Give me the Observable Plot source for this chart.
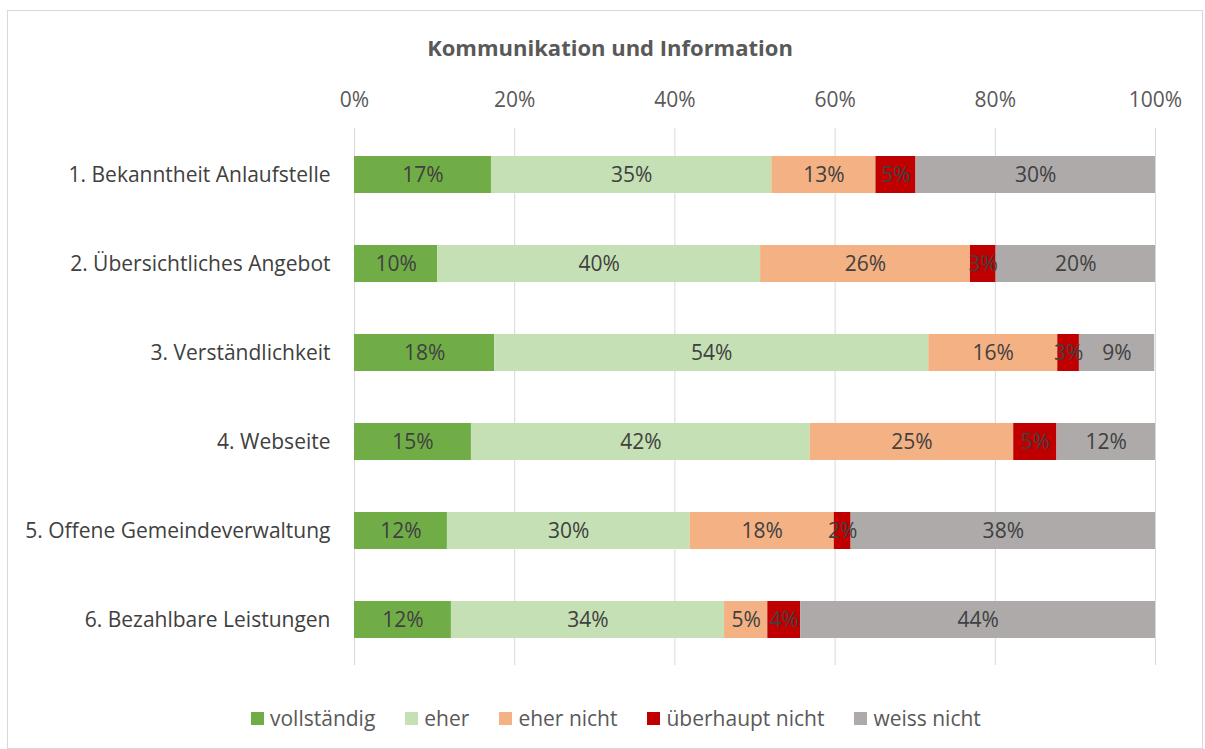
<!DOCTYPE html>
<html><head><meta charset="utf-8">
<script src="https://cdn.jsdelivr.net/npm/d3@7"></script>
<script src="https://cdn.jsdelivr.net/npm/@observablehq/plot@0.6"></script>
<style>
body{margin:0;background:#fff;font-family:"Open Sans",sans-serif;}
#frame{position:absolute;left:7px;top:10px;width:1194px;height:737px;border:1px solid #d9d9d9;background:#fff;}
#title{position:absolute;left:0;width:1204px;top:36px;transform:translateY(-50%);text-align:center;font-weight:bold;font-size:22px;color:#595959;}
#chart{position:absolute;left:0;top:0;}
#legend{position:absolute;top:707px;transform:translateY(-50%);left:243px;display:flex;gap:30px;font-size:21px;color:#595959;align-items:center;white-space:nowrap;}
#legend .it{display:flex;align-items:center;gap:6px;}
#legend .sw{width:13px;height:13px;display:inline-block;}
</style></head>
<body>
<div id="frame">
  <div id="title">Kommunikation und Information</div>
  <div id="chart"></div>
  <div id="legend"></div>
</div>
<script>
const categories = [
  "1. Bekanntheit Anlaufstelle",
  "2. Übersichtliches Angebot",
  "3. Verständlichkeit",
  "4. Webseite",
  "5. Offene Gemeindeverwaltung",
  "6. Bezahlbare Leistungen"
];
const seriesNames = ["vollständig", "eher", "eher nicht", "überhaupt nicht", "weiss nicht"];
const seriesColors = ["#70ad47", "#c5e0b4", "#f4b183", "#c00000", "#aeaaaa"];
const vollstaendig    = [17.1, 10.4, 17.5, 14.6, 11.6, 12.1];
const eher            = [35.0, 40.3, 54.2, 42.3, 30.3, 34.1];
const eherNicht       = [13.0, 26.2, 16.1, 25.4, 18.0, 5.4];
const ueberhauptNicht = [5.0, 3.2, 2.7, 5.4, 2.1, 4.1];
const weissNicht      = [29.9, 19.9, 9.4, 12.3, 38.0, 44.3];
const xTicks = [0, 20, 40, 60, 80, 100];

const seriesValues = [vollstaendig, eher, eherNicht, ueberhauptNicht, weissNicht];
const data = [];
categories.forEach((c, i) => {
  seriesNames.forEach((s, j) => data.push({cat: c, series: s, value: seriesValues[j][i]}));
});

const chart = Plot.plot({
  width: 1194,
  height: 690,
  marginLeft: 346,
  marginRight: 47,
  marginTop: 117,
  marginBottom: 36,
  style: {fontFamily: "'Open Sans', sans-serif", color: "#595959", background: "transparent"},
  x: {domain: [0, 100]},
  y: {domain: categories, paddingInner: 0.587, paddingOuter: 0.2935},
  color: {domain: seriesNames, range: seriesColors},
  marks: [
    Plot.ruleX(xTicks, {stroke: "#d9d9d9", strokeWidth: 1}),
    Plot.barX(data, Plot.stackX({x: "value", y: "cat", fill: "series", z: "series"})),
    Plot.text(data, Plot.stackX({x: "value", y: "cat", z: "series",
      text: d => Math.round(d.value) + "%", fill: "#404040", fontSize: 21})),
    Plot.axisX({anchor: "top", ticks: xTicks, tickSize: 0, tickPadding: 22,
      tickFormat: d => d + "%", fontSize: 21, label: null, fill: "#595959"}),
    Plot.axisY({tickSize: 0, tickPadding: 24, fontSize: 21, label: null, fill: "#404040"})
  ]
});
document.getElementById("chart").appendChild(chart);

const legend = document.getElementById("legend");
seriesNames.forEach((s, j) => {
  const it = document.createElement("div");
  it.className = "it";
  const sw = document.createElement("span");
  sw.className = "sw";
  sw.style.background = seriesColors[j];
  const t = document.createElement("span");
  t.textContent = s;
  it.appendChild(sw); it.appendChild(t);
  legend.appendChild(it);
});
</script>
</body></html>
